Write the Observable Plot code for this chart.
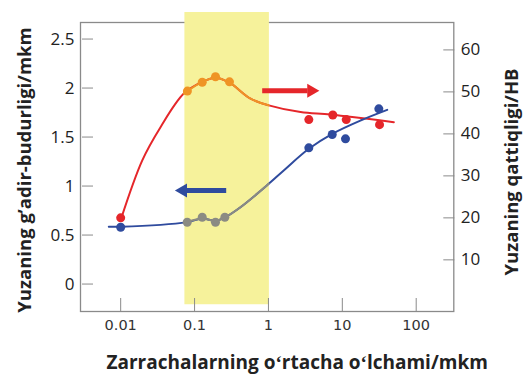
<!DOCTYPE html>
<html>
<head>
<meta charset="utf-8">
<script src="https://cdn.jsdelivr.net/npm/d3@7"></script>
<script src="https://cdn.jsdelivr.net/npm/@observablehq/plot@0.6"></script>
<style>
  html, body { margin: 0; padding: 0; background: #fff; }
</style>
</head>
<body>
<div id="chart"></div>
<script>
// ---- data ----
const xTicks = [0.01, 0.1, 1, 10, 100];
const xTickLabels = ["0.01", "0.1", "1", "10", "100"];
const leftTicks = [0, 0.5, 1, 1.5, 2, 2.5];
const leftTickLabels = ["0", "0.5", "1", "1.5", "2", "2.5"];
const rightTicks = [10, 20, 30, 40, 50, 60];

// hardness (HB, right axis) measured points
const hardX  = [0.01, 0.08, 0.127, 0.192, 0.297, 3.52, 7.43, 11.3, 31.9];
const hardHB = [20, 50.2, 52.3, 53.6, 52.4, 43.4, 44.5, 43.4, 42.2];
// hardness trend line
const hardFitX  = [0.01, 0.0196, 0.0346, 0.0715, 0.127, 0.192, 0.297, 0.572, 1.011, 2.72, 6.92, 49.8];
const hardFitHB = [19.5, 33.7, 41.6, 49.6, 52.4, 53.4, 52.2, 48.4, 46.8, 45.2, 44.6, 42.8];

// roughness (mkm, left axis) measured points
const roughX   = [0.01, 0.0795, 0.127, 0.192, 0.257, 3.52, 7.3, 11.04, 31.2];
const roughMkm = [0.58, 0.631, 0.682, 0.631, 0.682, 1.39, 1.526, 1.482, 1.788];
// roughness trend line
const roughFitX   = [0.0069, 0.01, 0.0795, 0.127, 0.192, 0.257, 0.418, 1.01, 1.61, 3.52, 7.3, 17.6, 40.5];
const roughFitMkm = [0.585, 0.585, 0.632, 0.668, 0.645, 0.68, 0.784, 1.023, 1.159, 1.38, 1.533, 1.669, 1.778];

// highlighted size range
const bandX = [0.074, 1.03];
const bandMkm = [-0.211, 2.771];

// direction arrows (annotation)
const arrowHard  = {x1: 0.823, x2: 3.38, head: 3.80, hb: 50.3};
const arrowRough = {x1: 0.268, x2: 0.0754, head: 0.0697, mkm: 0.955};

// ---- colours ----
const RED = "#e5262a", ORANGE = "#ef9425", BLUE = "#2f4b9e", GREY = "#8b8b83", YELLOW = "#f6f29b", FRAME = "#8a8a8a";

// right axis (HB) mapped onto the left axis units
const yDomain = [-0.28, 2.669];
const hb2v = d3.scaleLinear().domain([-2.3, 66.53]).range(yDomain);

const inBand = x => x >= bandX[0] && x <= bandX[1];

const hardPts = hardX.map((x, i) => ({x, v: hb2v(hardHB[i]), c: inBand(x) ? ORANGE : RED}));
const roughPts = roughX.map((x, i) => ({x, v: roughMkm[i], c: inBand(x) ? GREY : BLUE}));
const hardFit = hardFitX.map((x, i) => ({x, v: hb2v(hardFitHB[i])}));
const roughFit = roughFitX.map((x, i) => ({x, v: roughFitMkm[i]}));
const hardFitBand = hardFit.filter(d => d.x >= 0.07 && d.x <= 1.02);
const roughFitBand = roughFit.filter(d => d.x >= 0.075 && d.x <= 1.02);

const tickFont = "Open Sans";

const chart = Plot.plot({
  width: 531,
  height: 376,
  marginLeft: 80,
  marginRight: 77.7,
  marginTop: 22,
  marginBottom: 65,
  x: {type: "log", domain: [0.002858, 322.8], label: null},
  y: {domain: yDomain, label: null},
  style: {background: "#fff", fontFamily: "Open Sans"},
  marks: [
    Plot.frame({stroke: FRAME, strokeWidth: 1.3}),
    Plot.rect([0], {x1: () => bandX[0], x2: () => bandX[1], y1: () => bandMkm[0], y2: () => bandMkm[1], fill: YELLOW}),
    // trend lines
    Plot.line(hardFit, {x: "x", y: "v", stroke: RED, strokeWidth: 2, curve: "catmull-rom"}),
    Plot.line(hardFitBand, {x: "x", y: "v", stroke: ORANGE, strokeWidth: 2, curve: "catmull-rom"}),
    Plot.line(roughFit, {x: "x", y: "v", stroke: BLUE, strokeWidth: 2, curve: "catmull-rom"}),
    Plot.line(roughFitBand, {x: "x", y: "v", stroke: GREY, strokeWidth: 2, curve: "catmull-rom"}),
    // points
    Plot.dot(hardPts, {x: "x", y: "v", r: 4.5, fill: d => d.c, stroke: null}),
    Plot.dot(roughPts, {x: "x", y: "v", r: 4.5, fill: d => d.c, stroke: null}),
    // arrows
    Plot.link([arrowHard], {x1: "x1", x2: "x2", y1: d => hb2v(d.hb), y2: d => hb2v(d.hb), stroke: RED, strokeWidth: 5}),
    Plot.dot([arrowHard], {x: "head", y: d => hb2v(d.hb), symbol: "triangle", r: 5.2, fill: RED, stroke: null, rotate: 90}),
    Plot.link([arrowRough], {x1: "x1", x2: "x2", y1: "mkm", y2: "mkm", stroke: BLUE, strokeWidth: 5}),
    Plot.dot([arrowRough], {x: "head", y: "mkm", symbol: "triangle", r: 5.2, fill: BLUE, stroke: null, rotate: -90}),
    // x axis: inward ticks + labels
    Plot.axisX({ticks: xTicks, tickSize: -13, tickFormat: () => "", stroke: FRAME, label: null}),
    Plot.axisX({ticks: xTicks, tickSize: 0, tickPadding: 8, tickFormat: d => xTickLabels[xTicks.indexOf(d)],
      fontSize: 14.5, fontFamily: "DejaVu Sans", fill: "#333", label: null}),
    // left axis
    Plot.axisY({anchor: "left", ticks: leftTicks, tickSize: -11, dx: 2, tickFormat: () => "", stroke: FRAME, label: null}),
    Plot.axisY({anchor: "left", ticks: leftTicks, tickSize: 0, tickPadding: 6,
      tickFormat: d => leftTickLabels[leftTicks.indexOf(d)], fontSize: 17, fontFamily: tickFont, fill: "#222", label: null}),
    // right axis (HB)
    Plot.axisY({anchor: "right", ticks: rightTicks.map(hb2v), tickSize: -11, tickFormat: () => "", stroke: FRAME, label: null}),
    Plot.axisY({anchor: "right", ticks: rightTicks.map(hb2v), tickSize: 0, tickPadding: 7,
      tickFormat: d => String(Math.round(hb2v.invert(d))), fontSize: 17, fontFamily: tickFont, fill: "#222", label: null}),
    // axis titles
    Plot.text(["Yuzaning g’adir-budurligi/mkm"], {frameAnchor: "left", dx: -55, dy: 3, rotate: -90,
      textAnchor: "middle", lineAnchor: "middle", fontSize: 18.5, fontWeight: "bold", fill: "#222"}),
    Plot.text(["Yuzaning qattiqligi/HB"], {frameAnchor: "right", dx: 58, dy: 5, rotate: -90,
      textAnchor: "middle", lineAnchor: "middle", fontSize: 18.5, fontWeight: "bold", fill: "#222"}),
    Plot.text(["Zarrachalarning oʻrtacha oʻlchami/mkm"], {frameAnchor: "bottom", dx: 30, dy: 51,
      textAnchor: "middle", lineAnchor: "middle", fontSize: 19, fontWeight: "bold", fill: "#222"})
  ]
});
document.getElementById("chart").appendChild(chart);
</script>
</body>
</html>
